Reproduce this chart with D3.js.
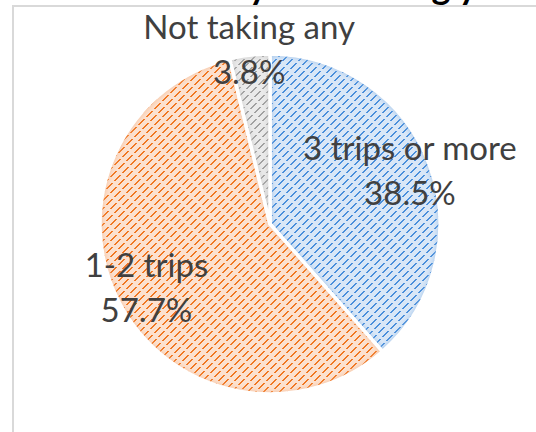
<!DOCTYPE html>
<html>
<head>
<meta charset="utf-8">
<script src="https://cdn.jsdelivr.net/npm/d3@7"></script>
<style>
  body { margin: 0; background: #fff; overflow: hidden; }
  text { font-family: Lato, 'Open Sans', sans-serif; }
</style>
</head>
<body>
<div id="chart"></div>
<script>
// data
const categories = ['3 trips or more', '1-2 trips', 'Not taking any']
const shares = [38.5, 57.7, 3.8]
const pctLabels = ['38.5%', '57.7%', '3.8%']

// look of each slice: dash colour over a light ground
const dashColors = ['#4a8fdb', '#f07722', '#a0a0a0']
const groundColors = ['#d9e7f7', '#fce1cf', '#eaeaea']
const rimColors = ['#8fb9e6', '#f3b48a', '#c4c4c4']

// label distance from centre, as a share of the radius (Excel "best fit")
const labelRadius = [0.88, 0.82, 1.03]

const W = 536
const H = 432
const cx = 270
const cy = 224
const radius = 170

const svg = d3.select('#chart')
  .append('svg')
  .attr('width', W)
  .attr('height', H)

const defs = svg.append('defs')

// dashed upward diagonal: 2px lines every 8px, broken into dashes
const tile = 16
dashColors.forEach(function (c, i) {
  const p = defs.append('pattern')
    .attr('id', 'pat' + i)
    .attr('patternUnits', 'userSpaceOnUse')
    .attr('width', tile)
    .attr('height', tile)
  p.append('rect').attr('width', tile).attr('height', tile).attr('fill', groundColors[i])
  for (let y = 0; y < tile; y++) {
    for (let x = 0; x < tile; x++) {
      const across = (x + y) % 8
      const along = ((x - y) % 16 + 16) % 16
      if (across < 2 && along < 12) {
        p.append('rect')
          .attr('x', x).attr('y', y)
          .attr('width', 1).attr('height', 1)
          .attr('fill', c)
      }
    }
  }
})

defs.append('filter')
  .attr('id', 'soft')
  .append('feGaussianBlur')
  .attr('stdDeviation', 2)

// chart area border (runs off to the right and bottom)
svg.append('rect')
  .attr('x', 13)
  .attr('y', 6)
  .attr('width', W)
  .attr('height', H)
  .attr('fill', 'none')
  .attr('stroke', '#d9d9d9')
  .attr('stroke-width', 2)

// title, mostly cut off at the top
svg.append('text')
  .attr('x', 44)
  .attr('y', -1)
  .attr('font-size', 36)
  .attr('font-weight', 'bold')
  .attr('fill', '#000')
  .text('Travel activity rate during year')

const pie = d3.pie().sort(null).value(function (d) { return d })
const arcs = pie(shares)
const arc = d3.arc().innerRadius(0).outerRadius(radius)

const g = svg.append('g')
  .attr('transform', 'translate(' + cx + ',' + cy + ')')

arcs.forEach(function (a, i) {
  defs.append('clipPath')
    .attr('id', 'clip' + i)
    .append('path')
    .attr('d', arc(a))
})

const slices = g.selectAll('g.slice')
  .data(arcs)
  .enter()
  .append('g')
  .attr('class', 'slice')

slices.append('path')
  .attr('d', arc)
  .attr('fill', function (d, i) { return 'url(#pat' + i + ')' })

// soft rim just inside each slice
slices.append('path')
  .attr('d', arc)
  .attr('fill', 'none')
  .attr('stroke', function (d, i) { return rimColors[i] })
  .attr('stroke-opacity', 0.6)
  .attr('stroke-width', 5)
  .attr('filter', 'url(#soft)')
  .attr('clip-path', function (d, i) { return 'url(#clip' + i + ')' })

slices.append('path')
  .attr('d', arc)
  .attr('fill', 'none')
  .attr('stroke', '#fff')
  .attr('stroke-width', 3.5)
  .attr('stroke-linejoin', 'round')

// labels: category on the first line, percentage below
const labels = g.selectAll('g.label')
  .data(arcs)
  .enter()
  .append('g')
  .attr('class', 'label')
  .attr('transform', function (d, i) {
    const mid = (d.startAngle + d.endAngle) / 2
    const r = radius * labelRadius[i]
    return 'translate(' + (Math.sin(mid) * r) + ',' + (-Math.cos(mid) * r) + ')'
  })

labels.append('text')
  .attr('text-anchor', 'middle')
  .attr('y', -11)
  .attr('font-size', 33)
  .attr('fill', '#404040')
  .text(function (d, i) { return categories[i] })

labels.append('text')
  .attr('text-anchor', 'middle')
  .attr('y', 34)
  .attr('font-size', 33)
  .attr('fill', '#404040')
  .text(function (d, i) { return pctLabels[i] })
</script>
</body>
</html>
